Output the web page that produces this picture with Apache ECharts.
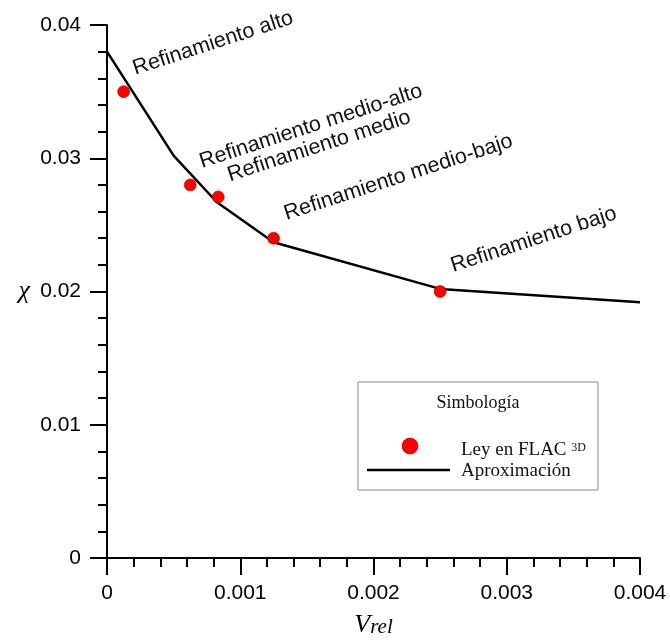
<!DOCTYPE html>
<html><head><meta charset="utf-8">
<script src="https://cdn.jsdelivr.net/npm/echarts@6/dist/echarts.min.js"></script>
<style>html,body{margin:0;padding:0;background:#fff}#c{width:670px;height:643px}</style>
</head><body><div id="c"></div>
<script>
// ---- data ----
const xTickLabels = ['0', '0.001', '0.002', '0.003', '0.004'];
const yTickLabels = ['0', '0.01', '0.02', '0.03', '0.04'];
const flacX = [0.000125, 0.000625, 0.000835, 0.00125, 0.0025];
const flacY = [0.0350, 0.0280, 0.0271, 0.0240, 0.0200];
const approxX = [0, 0.0005, 0.000825, 0.00125, 0.0025, 0.004];
const approxY = [0.0380, 0.0302, 0.0267, 0.0237, 0.0202, 0.0192];
const annotText = ['Refinamiento alto', 'Refinamiento medio-alto', 'Refinamiento medio', 'Refinamiento medio-bajo', 'Refinamiento bajo'];
const annotX = [0.000225, 0.000725, 0.000935, 0.00136, 0.00261];
const annotY = [0.0359, 0.0289, 0.0279, 0.0250, 0.0211];
const legendTitle = 'Simbología';
const seriesNames = ['Ley en FLAC', 'Aproximación'];

const chart = echarts.init(document.getElementById('c'), null, {renderer: 'canvas'});
const sans = '"Liberation Sans", Arial, sans-serif';
const serif = '"Liberation Serif", "Times New Roman", serif';
const axisCommon = {
  type: 'value',
  axisLine: {show: true, onZero: false, lineStyle: {color: '#000', width: 2}},
  axisTick: {show: true, inside: false, length: 17, lineStyle: {color: '#000', width: 2}},
  minorTick: {show: true, splitNumber: 5, length: 9, lineStyle: {color: '#000', width: 2}},
  splitLine: {show: false},
  minorSplitLine: {show: false}
};
chart.setOption({
  animation: false,
  backgroundColor: '#fff',
  grid: {left: 107, right: 30, top: 25, bottom: 84, containLabel: false},
  xAxis: Object.assign({}, axisCommon, {
    min: 0, max: 0.004, interval: 0.001,
    axisLabel: {margin: 25, fontSize: 21, color: '#000', fontFamily: sans,
      formatter: (v, i) => xTickLabels[Math.round(v / 0.001)]},
    name: '{v|V}{s|rel}', nameLocation: 'middle', nameGap: 45,
    nameTextStyle: {rich: {
      v: {fontSize: 26, fontFamily: serif, fontStyle: 'italic', color: '#000', lineHeight: 26, verticalAlign: 'top'},
      s: {fontSize: 21, fontFamily: serif, fontStyle: 'italic', color: '#000', lineHeight: 21, verticalAlign: 'bottom', padding: [8, 0, 0, 0]}
    }}
  }),
  yAxis: Object.assign({}, axisCommon, {
    min: 0, max: 0.04, interval: 0.01,
    axisLabel: {margin: 26, fontSize: 21, color: '#000', fontFamily: sans,
      formatter: (v, i) => yTickLabels[Math.round(v / 0.01)]},
    name: 'χ', nameLocation: 'middle', nameGap: 77, nameRotate: 0,
    nameTextStyle: {fontSize: 26, fontFamily: serif, fontStyle: 'italic', color: '#000'}
  }),
  series: [
    {
      name: seriesNames[1], type: 'line', data: approxX.map((x, i) => [x, approxY[i]]),
      showSymbol: false, symbol: 'none', lineStyle: {color: '#000', width: 2.5}, z: 2
    },
    {
      name: seriesNames[0], type: 'scatter', data: flacX.map((x, i) => [x, flacY[i]]),
      symbol: 'circle', symbolSize: 12,
      itemStyle: {color: '#ff0000', borderColor: '#a00000', borderWidth: 0.6, opacity: 1}, z: 3
    },
    {
      type: 'scatter', silent: true, z: 4,
      data: annotX.map((x, i) => [x, annotY[i], annotText[i]]),
      symbolSize: 0.1, itemStyle: {color: 'rgba(0,0,0,0)', opacity: 1},
      label: {show: true, position: [0, 0], formatter: p => p.data[2], rotate: 18, opacity: 1,
        align: 'left', verticalAlign: 'bottom', fontSize: 21.5, fontFamily: sans, color: '#111'}
    }
  ],
  graphic: [
    {type: 'rect', z: 100, shape: {x: 358, y: 382, width: 240, height: 108},
      style: {fill: '#fff', stroke: '#8a8a8a', lineWidth: 1}},
    {type: 'text', z: 101, x: 478, y: 403,
      style: {text: legendTitle, font: '18px ' + serif, fill: '#111', align: 'center', verticalAlign: 'middle'}},
    {type: 'circle', z: 101, shape: {cx: 410, cy: 446, r: 8},
      style: {fill: '#ff0000', stroke: '#b00000', lineWidth: 0.6}},
    {type: 'text', z: 101, x: 461, y: 450,
      style: {text: '{a|' + seriesNames[0] + ' }{b|3D}', verticalAlign: 'middle', align: 'left',
        rich: {
          a: {fontSize: 19, fontFamily: serif, fill: '#111', lineHeight: 22},
          b: {fontSize: 12, fontFamily: serif, fill: '#111', verticalAlign: 'top', padding: [3, 0, 0, 0]}
        }}},
    {type: 'line', z: 101, shape: {x1: 367, y1: 470, x2: 450, y2: 470},
      style: {stroke: '#000', lineWidth: 2.7}},
    {type: 'text', z: 101, x: 461, y: 471,
      style: {text: seriesNames[1], font: '19px ' + serif, fill: '#111', align: 'left', verticalAlign: 'middle'}}
  ]
});
</script>
</body></html>
